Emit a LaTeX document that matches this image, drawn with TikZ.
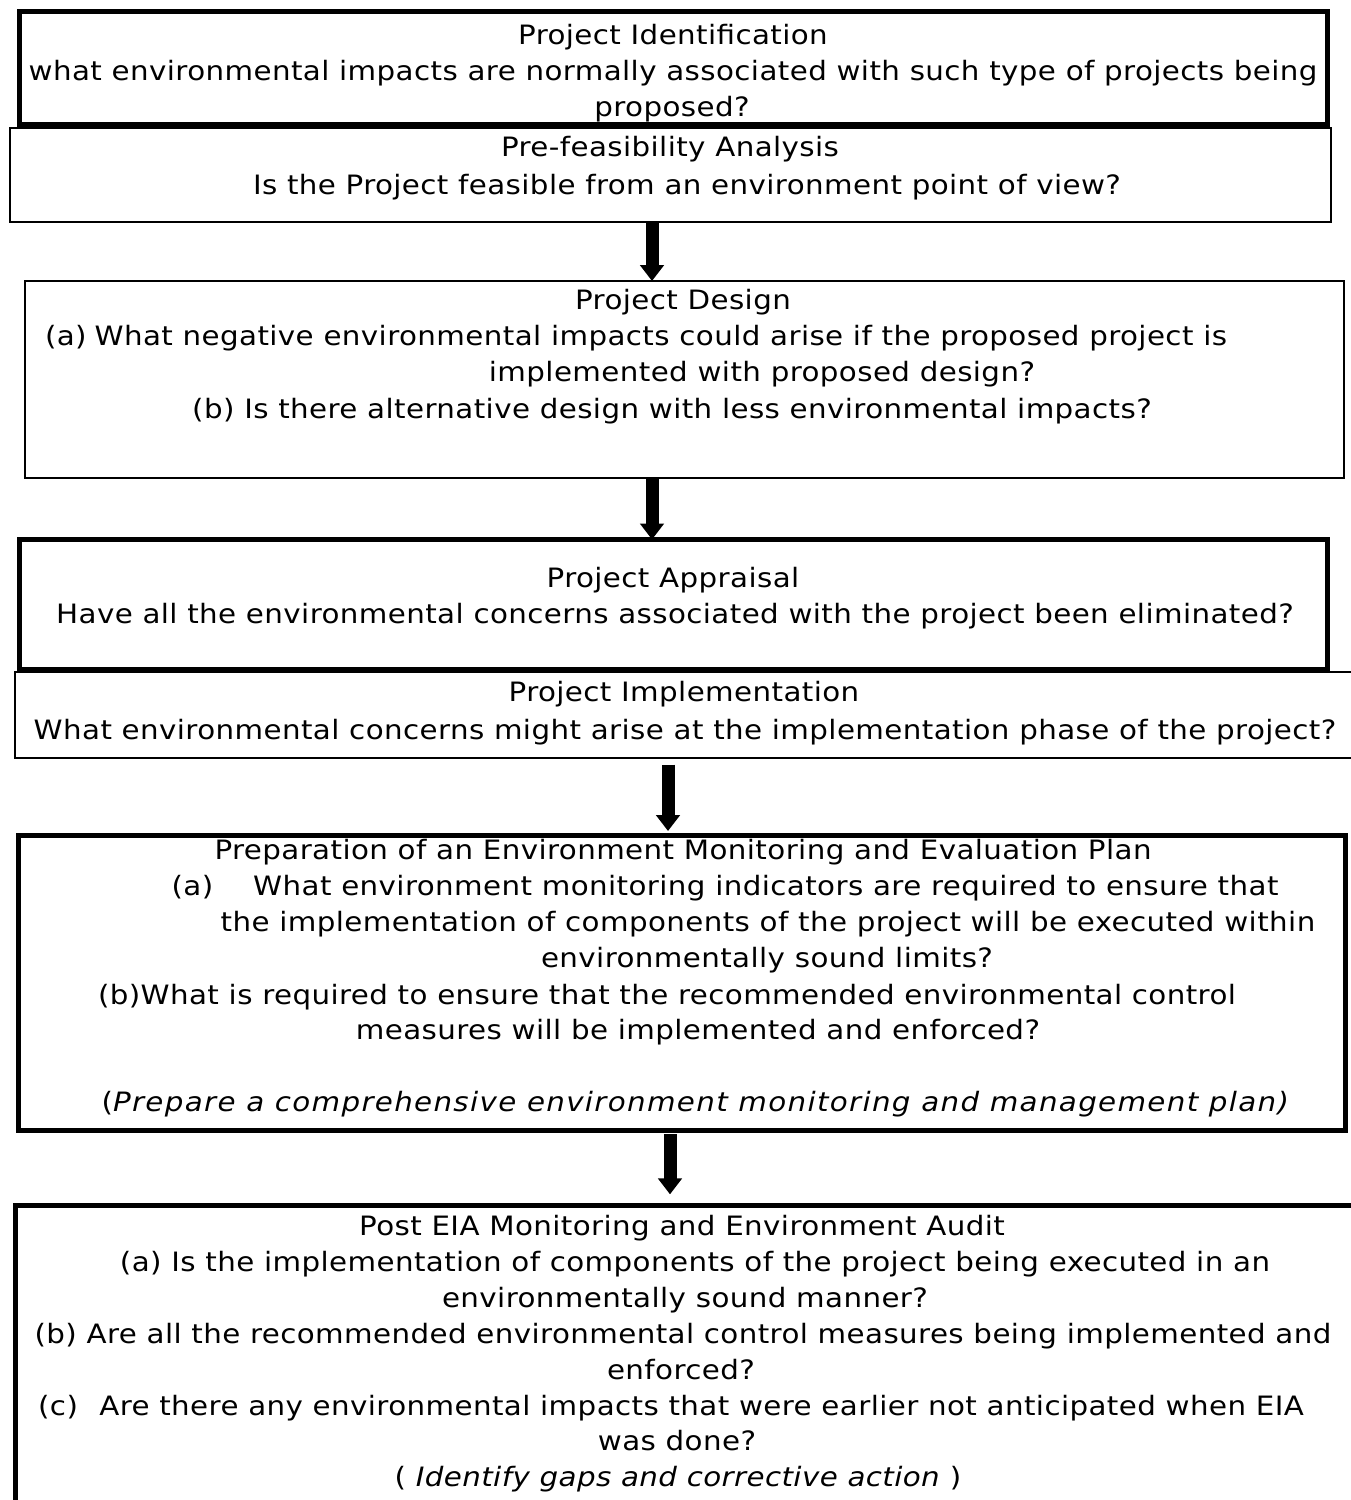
\documentclass[tikz,border=0pt]{standalone}
\usepackage{fontspec}
\setmainfont{DejaVu Sans}[FakeStretch=1.1, LetterSpace=1.5]
\usetikzlibrary{arrows.meta}

\tikzset{every picture/.style={line width=0.75pt}}
\tikzset{
  thickbox/.style={draw, line width=3.75pt, inner sep=0pt, outer sep=0pt},
  thinbox/.style={draw, line width=1.5pt, inner sep=0pt, outer sep=0pt},
  txt/.style={anchor=base, inner sep=0pt, font=\fontsize{20}{24}\selectfont},
  downarrow/.style={line width=9.75pt, -{Triangle[length=12pt, width=17.5pt]}}
}

\begin{document}
\begin{tikzpicture}[x=0.75pt,y=0.75pt,yscale=-1,xscale=1]
\useasboundingbox (0,0) rectangle (1351,1500);

%Boxes
\node[thickbox, minimum width=1308*0.75pt, minimum height=113*0.75pt] (ident) at (673.5,68) {};
\node[thinbox, minimum width=1321*0.75pt, minimum height=94*0.75pt] (feas) at (670.5,175) {};
\node[thinbox, minimum width=1319*0.75pt, minimum height=197*0.75pt] (design) at (684.5,379.5) {};
\node[thickbox, minimum width=1308*0.75pt, minimum height=130*0.75pt] (apprl) at (673.5,604.5) {};
\node[thinbox, minimum width=1355*0.75pt, minimum height=86*0.75pt] (impl) at (692.5,715) {};
\node[thickbox, minimum width=1327*0.75pt, minimum height=295*0.75pt] (plan) at (681.5,982.5) {};
\node[thickbox, minimum width=1355*0.75pt, minimum height=325*0.75pt] (audit) at (692.5,1367.5) {};

%Project Identification
\node[txt] (ident1) at (673,44) {Project Identification};
\node[txt] (ident2) at (673,80) {what environmental impacts are normally associated with such type of projects being};
\node[txt] (ident3) at (672,116) {proposed?};

%Pre-feasibility
\node[txt] (feas1) at (670,156) {Pre-feasibility Analysis};
\node[txt] (feas2) at (687,194) {Is the Project feasible from an environment point of view?};

%Project Design
\node[txt] (design1) at (683,309) {Project Design};
\node[txt] (design2) at (636,345) {(a)\hspace{0.3em}What negative environmental impacts could arise if the proposed project is};
\node[txt] (design3) at (762,381) {implemented with proposed design?};
\node[txt] (design4) at (672,418) {(b) Is there alternative design with less environmental impacts?};

%Project Appraisal
\node[txt] (apprl1) at (673,587) {Project Appraisal};
\node[txt] (apprl2) at (675,623) {Have all the environmental concerns associated with the project been eliminated?};

%Project Implementation
\node[txt] (impl1) at (684,701) {Project Implementation};
\node[txt] (impl2) at (685,739) {What environmental concerns might arise at the implementation phase of the project?};

%Monitoring plan
\node[txt] (plan1) at (683,859) {Preparation of an Environment Monitoring and Evaluation Plan};
\node[txt] (plan2) at (725,895) {(a)\hspace{1.5em}What environment monitoring indicators are required to ensure that};
\node[txt] (plan3) at (768,931) {the implementation of components of the project will be executed within};
\node[txt] (plan4) at (767,967) {environmentally sound limits?};
\node[txt] (plan5) at (667,1004) {(b)What is required to ensure that the recommended environmental control};
\node[txt] (plan6) at (698,1039) {measures will be implemented and enforced?};
\node[txt] (plan7) at (696,1111) {(\textit{\addfontfeatures{LetterSpace=5}Prepare a comprehensive environment monitoring and management plan)}};

%Post EIA audit
\node[txt] (audit1) at (682,1235) {Post EIA Monitoring and Environment Audit};
\node[txt] (audit2) at (695,1271) {(a) Is the implementation of components of the project being executed in an};
\node[txt] (audit3) at (685,1307) {environmentally sound manner?};
\node[txt] (audit4) at (683,1343) {(b) Are all the recommended environmental control measures being implemented and};
\node[txt] (audit5) at (681,1379) {enforced?};
\node[txt] (audit6) at (671,1415) {(c)\hspace{0.8em}Are there any environmental impacts that were earlier not anticipated when EIA};
\node[txt] (audit7) at (677,1450) {was done?};
\node[txt] (audit8) at (678,1486) {( \textit{Identify gaps and corrective action} )};

%Arrows
\draw[downarrow] (feas.south -| 652,0) -- (design.north -| 652,0);
\draw[downarrow] (design.south -| 652,0) -- (apprl.north -| 652,0);
\draw[downarrow, shorten <=5pt, shorten >=3pt] (impl.south -| 668,0) -- (plan.north -| 668,0);
\draw[downarrow, shorten <=3pt, shorten >=8pt] (plan.south -| 670,0) -- (audit.north -| 670,0);

\end{tikzpicture}
\end{document}
